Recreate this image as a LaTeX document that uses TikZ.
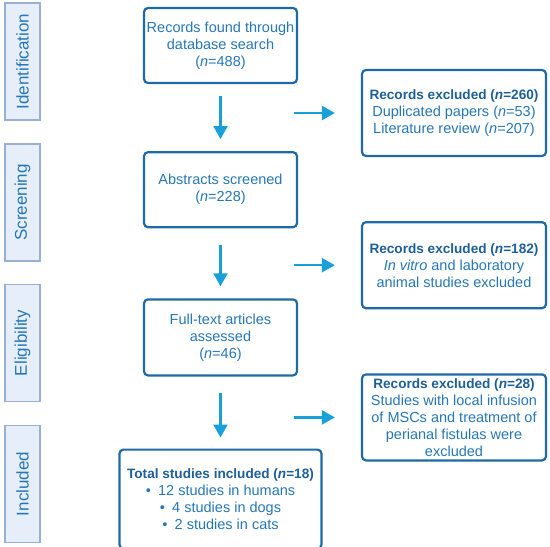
\documentclass[tikz,border=0pt]{standalone}
\usepackage{fontspec}
\setmainfont{Liberation Sans}
\usetikzlibrary{positioning,arrows.meta,calc}

\definecolor{edgeblue}{HTML}{1E6AA8}
\definecolor{txtblue}{HTML}{2677B8}
\definecolor{headblue}{HTML}{1D5F9A}
\definecolor{arrblue}{HTML}{1AA0D8}
\definecolor{phasefill}{HTML}{E6EEF9}
\definecolor{phaseedge}{HTML}{98B0D4}

\newcommand{\hd}[1]{{\fontsize{13.6}{17}\selectfont\bfseries\color{headblue}#1}}

\begin{document}
\begin{tikzpicture}[
  x=1pt, y=1pt,
  box/.style={draw=edgeblue, line width=2.2pt, rounded corners=4pt, align=center,
              text=txtblue, font=\fontsize{14.5}{17}\selectfont,
              minimum width=153pt, minimum height=75pt, inner sep=2pt},
  xbox/.style={box, minimum width=184pt, minimum height=86pt},
  phase/.style={draw=phaseedge, fill=phasefill, line width=1.5pt, rotate=90,
                minimum width=117pt, minimum height=35pt, inner sep=0pt,
                text=txtblue, font=\fontsize{17}{19}\selectfont},
  arr/.style={-{Triangle[width=14pt,length=13pt]}, line width=2.2pt, draw=arrblue},
  node distance=67pt
]
  \useasboundingbox (0,0) rectangle (550,-547);

  % phase labels down the left side
  \node[phase] (ident) at (22.5,-61.5) {Identification};
  \node[phase] (screen) at (22.5,-202.5) {Screening};
  \node[phase] (elig) at (22.5,-343) {Eligibility};
  \node[phase] (incl) at (22.5,-484) {Included};

  % main column
  \node[box] (found) at (220.5,-45.5) {Records found through\\database search\\(\textit{n}=488)};
  \node[box, below=of found] (abstr) {Abstracts screened\\(\textit{n}=228)};
  \node[box, below=70pt of abstr, minimum height=76pt] (full) {Full-text articles\\assessed\\(\textit{n}=46)};
  \node[box, below=72pt of full, minimum width=202pt, minimum height=99pt] (total)
    {\hd{Total studies included (\textit{n}=18)}\\
     \textbullet\enspace 12 studies in humans\\
     \textbullet\enspace 4 studies in dogs\\
     \textbullet\enspace 2 studies in cats};

  % excluded records
  \node[xbox] (exA) at (454,-113) {\hd{Records excluded (\textit{n}=260)}\\Duplicated papers (\textit{n}=53)\\Literature review (\textit{n}=207)};
  \node[xbox, below=64pt of exA] (exB) {\hd{Records excluded (\textit{n}=182)}\\\textit{In vitro} and laboratory\\animal studies excluded};
  \node[xbox, below=64pt of exB] (exC) {\hd{Records excluded (\textit{n}=28)}\\Studies with local infusion\\of MSCs and treatment of\\perianal fistulas were\\excluded};

  \draw[arr, shorten <=12pt, shorten >=12pt] (found) -- (abstr);
  \draw[arr, shorten <=17pt, shorten >=12pt] (abstr) -- (full);
  \draw[arr, shorten <=16pt, shorten >=11pt] (full) -- (total);

  \draw[arr, shorten <=-4pt, shorten >=26pt] (exA.west -| found.east) -- (exA.west);
  \draw[arr, shorten <=-4pt, shorten >=26pt] (exB.west -| found.east) -- (exB.west);
  \draw[arr, shorten <=-4pt, shorten >=26pt] (exC.west -| found.east) -- (exC.west);
\end{tikzpicture}
\end{document}
